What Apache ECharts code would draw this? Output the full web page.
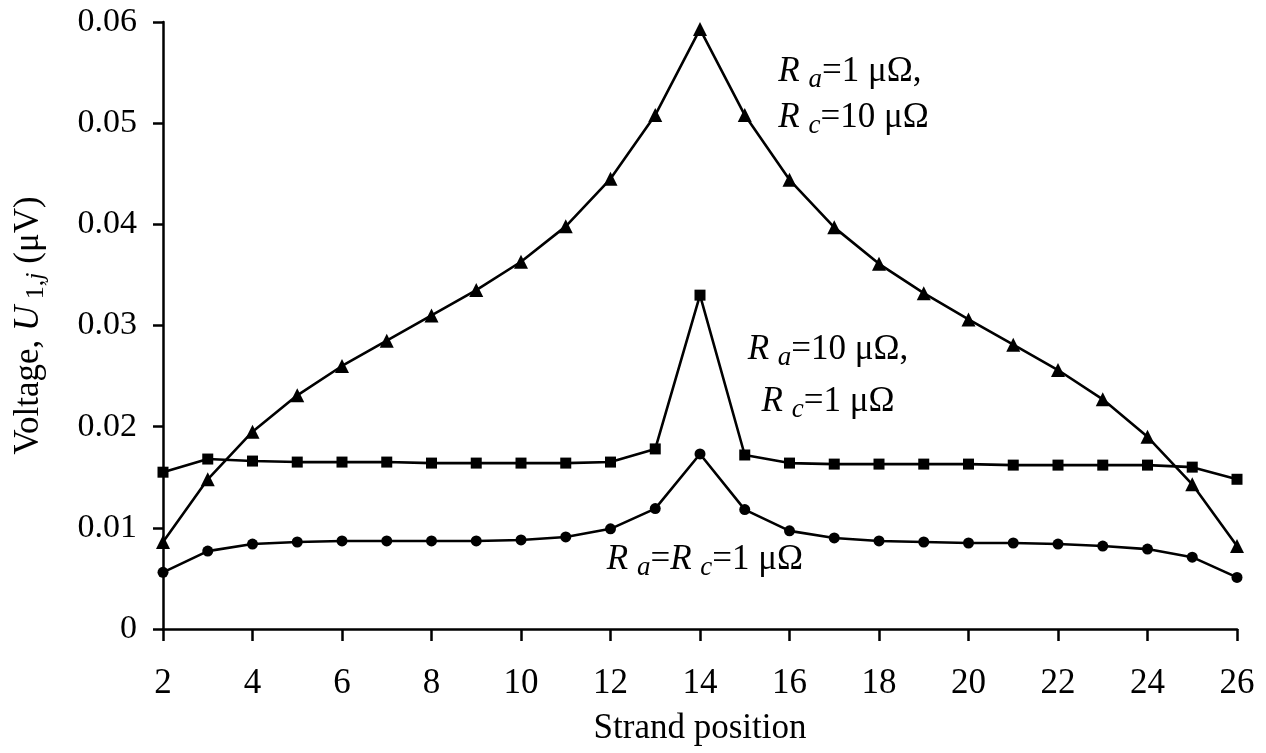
<!DOCTYPE html>
<html>
<head>
<meta charset="utf-8">
<script src="https://cdn.jsdelivr.net/npm/echarts@6/dist/echarts.min.js"></script>
<style>
  html, body { margin: 0; padding: 0; background: #fff; }
  #chart { width: 1266px; height: 753px; }
</style>
</head>
<body>
<div id="chart"></div>
<script>
// Strand positions along the cable
const positions = [2, 3, 4, 5, 6, 7, 8, 9, 10, 11, 12, 13, 14, 15, 16, 17, 18, 19, 20, 21, 22, 23, 24, 25, 26];

// Voltage U1,j (µV) for each resistance case
const ra1Rc10 = [0.0086, 0.0148, 0.0195, 0.0231, 0.0260, 0.0285, 0.0310, 0.0335, 0.0363, 0.0398, 0.0445, 0.0508, 0.0593,
                 0.0508, 0.0444, 0.0397, 0.0361, 0.0332, 0.0306, 0.0281, 0.0256, 0.0227, 0.0190, 0.0143, 0.0082];
const ra10Rc1 = [0.0155, 0.0168, 0.0166, 0.0165, 0.0165, 0.0165, 0.0164, 0.0164, 0.0164, 0.0164, 0.0165, 0.0178, 0.0330,
                 0.0172, 0.0164, 0.0163, 0.0163, 0.0163, 0.0163, 0.0162, 0.0162, 0.0162, 0.0162, 0.0160, 0.0148];
const raRc1   = [0.0056, 0.0077, 0.0084, 0.0086, 0.0087, 0.0087, 0.0087, 0.0087, 0.0088, 0.0091, 0.0099, 0.0119, 0.0173,
                 0.0118, 0.0097, 0.0090, 0.0087, 0.0086, 0.0085, 0.0085, 0.0084, 0.0082, 0.0079, 0.0071, 0.0051];

// Axis tick labels
const xTickLabels = ['2', '4', '6', '8', '10', '12', '14', '16', '18', '20', '22', '24', '26'];
const yTickLabels = ['0', '0.01', '0.02', '0.03', '0.04', '0.05', '0.06'];

// Curve annotation anchors [x, y] in data units
const noteAnchors = [[15.75, 0.0528], [16.86, 0.0250], [14.11, 0.0068]];

const FONT = '"Liberation Serif", "Times New Roman", serif';
const INK = '#000';

const pair = (ys) => positions.map((x, i) => [x, ys[i]]);

const txt = (extra) => Object.assign({ fontFamily: FONT, color: INK, textBorderWidth: 0, opacity: 1 }, extra);

const rich = {
  n: txt({ fontSize: 35 }),
  r: txt({ fontSize: 35, fontStyle: 'italic' }),
  s: txt({ fontSize: 27, fontStyle: 'italic', padding: [16, 0, 0, 0] })
};

const notes = [
  '{r|R }{s|a}{n|=1 μΩ,}\n{r|R }{s|c}{n|=10 μΩ}',
  '{r|R }{s|a}{n|=10 μΩ,}\n{r|R }{s|c}{n|=1 μΩ}',
  '{r|R }{s|a}{n|=}{r|R }{s|c}{n|=1 μΩ}'
];
const noteAlign = ['left', 'center', 'center'];
const noteLineHeight = [46, 52, 46];

const lineSeries = (name, ys, symbol, size) => ({
  name, type: 'line', data: pair(ys),
  symbol, symbolSize: size, showSymbol: true,
  lineStyle: { color: INK, width: 2.6 },
  itemStyle: { color: INK },
  z: 3, animation: false
});

const chart = echarts.init(document.getElementById('chart'), null, { renderer: 'canvas' });
chart.setOption({
  backgroundColor: '#fff',
  animation: false,
  grid: { left: 163, right: 29, top: 22, bottom: 124 },
  xAxis: {
    type: 'value', min: 2, max: 26, interval: 2,
    name: 'Strand position', nameLocation: 'middle', nameGap: 82,
    nameTextStyle: txt({ fontSize: 35 }),
    axisLine: { show: true, onZero: false, lineStyle: { color: INK, width: 2.5 } },
    axisTick: { show: true, inside: false, length: 12, lineStyle: { color: INK, width: 2.5 } },
    axisLabel: Object.assign(txt({ fontSize: 35 }), {
      margin: 37,
      formatter: (v) => xTickLabels[Math.round((v - 2) / 2)] ?? ''
    }),
    splitLine: { show: false }
  },
  yAxis: {
    type: 'value', min: 0, max: 0.06, interval: 0.01,
    name: '{n|Voltage, }{r|U}{sub| 1,}{subi|j}{n| (μV)}',
    nameLocation: 'middle', nameGap: 114, nameRotate: 90,
    nameTextStyle: {
      rich: {
        n: txt({ fontSize: 35 }),
        r: txt({ fontSize: 35, fontStyle: 'italic' }),
        sub: txt({ fontSize: 26, padding: [14, 0, 0, 0] }),
        subi: txt({ fontSize: 26, fontStyle: 'italic', padding: [14, 0, 0, 0] })
      }
    },
    axisLine: { show: true, lineStyle: { color: INK, width: 2.5 } },
    axisTick: { show: true, inside: false, length: 10, lineStyle: { color: INK, width: 2.5 } },
    axisLabel: Object.assign(txt({ fontSize: 34 }), {
      margin: 26,
      formatter: (v) => yTickLabels[Math.round(v / 0.01)] ?? ''
    }),
    splitLine: { show: false }
  },
  series: [
    lineSeries('Ra=1, Rc=10', ra1Rc10, 'triangle', 14),
    lineSeries('Ra=10, Rc=1', ra10Rc1, 'rect', 11),
    lineSeries('Ra=Rc=1', raRc1, 'circle', 11),
    {
      name: 'notes', type: 'scatter', symbolSize: 0, silent: true, z: 5,
      itemStyle: { opacity: 1, color: INK },
      data: noteAnchors.map((p, i) => ({
        value: p,
        label: {
          show: true, position: 'inside', formatter: notes[i],
          color: INK, textBorderWidth: 0, opacity: 1,
          align: noteAlign[i], verticalAlign: 'middle', lineHeight: noteLineHeight[i], rich
        }
      }))
    }
  ]
});
</script>
</body>
</html>
